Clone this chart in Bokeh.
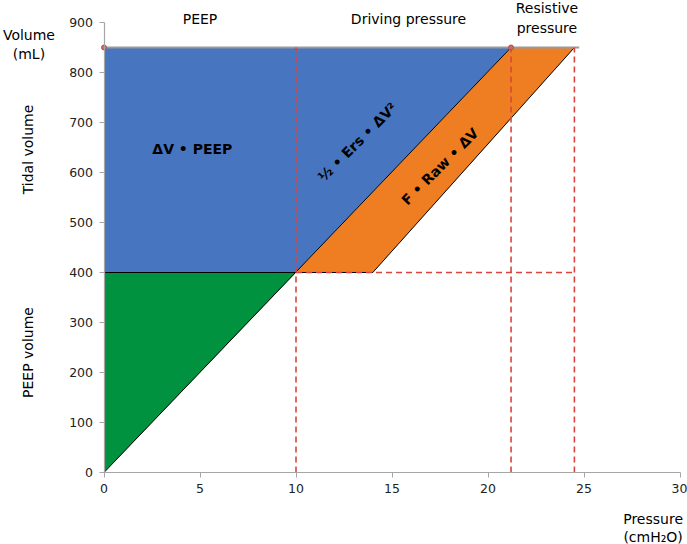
from bokeh.plotting import figure
from bokeh.models import Label, Range1d, FixedTicker
from bokeh.embed import file_html
from bokeh.resources import INLINE

# ---- data ----
peep_pressure = 10.0        # cmH2O
plateau_pressure = 21.2     # end of driving pressure
peak_pressure = 24.5        # end of resistive pressure
flow_corner_pressure = 14.0 # lower right corner of resistive area
peep_volume = 400           # mL
end_volume = 850            # mL

x_ticks = [0, 5, 10, 15, 20, 25, 30]
y_ticks = [0, 100, 200, 300, 400, 500, 600, 700, 800, 900]

green_x = [0, 0, peep_pressure]
green_y = [0, peep_volume, peep_volume]
blue_x = [0, 0, plateau_pressure, peep_pressure]
blue_y = [peep_volume, end_volume, end_volume, peep_volume]
orange_x = [peep_pressure, flow_corner_pressure, peak_pressure, plateau_pressure]
orange_y = [peep_volume, peep_volume, end_volume, end_volume]

BLUE = "#4775C0"
GREEN = "#00923F"
ORANGE = "#EF7D22"
RED = "#D9453C"
AXIS = "#A6A6A6"
FONT = "DejaVu Sans"

W, H = 687, 544
# plot area: x 0..30 spans px 103.5..679.5, y 0..900 spans px 472..22
XPX = 19.2
YPX = 0.5
x0_px, y0_px = 103.5, 472
x_range = Range1d(-x0_px / XPX, (W - x0_px) / XPX)
y_range = Range1d(-(H - y0_px) / YPX, y0_px / YPX)

p = figure(width=W, height=H, output_backend="svg", toolbar_location=None,
           x_range=x_range, y_range=y_range,
           min_border_left=0, min_border_right=0, min_border_top=0, min_border_bottom=0)
p.outline_line_color = None
p.xgrid.visible = False
p.ygrid.visible = False
p.background_fill_color = "white"

for ax in (p.xaxis[0], p.yaxis[0]):
    ax.fixed_location = 0
    ax.axis_line_color = AXIS
    ax.axis_line_width = 1.2
    ax.major_tick_line_color = AXIS
    ax.major_tick_in = 0
    ax.major_tick_out = 5
    ax.minor_tick_line_color = None
    ax.major_label_text_font = FONT
    ax.major_label_text_font_size = "12.5px"
    ax.major_label_text_color = "#222222"
p.xaxis.bounds = (0, 30)
p.yaxis.bounds = (0, 900)
p.xaxis.ticker = FixedTicker(ticks=x_ticks)
p.yaxis.ticker = FixedTicker(ticks=y_ticks)
p.xaxis.major_label_standoff = 6
p.yaxis.major_label_standoff = 6

# filled areas
p.patch(green_x, green_y, fill_color=GREEN, line_color=None)
p.patch(blue_x, blue_y, fill_color=BLUE, line_color=None)
p.patch(orange_x, orange_y, fill_color=ORANGE, line_color=None)

# outlines
p.line([0, plateau_pressure], [0, end_volume], line_color="black", line_width=1)
p.line([0, peep_pressure], [peep_volume, peep_volume], line_color="black", line_width=1)
p.line([flow_corner_pressure, peak_pressure], [peep_volume, end_volume], line_color="black", line_width=1)
p.line([peep_pressure, flow_corner_pressure], [peep_volume, peep_volume], line_color="black", line_width=1)
p.line([0, peak_pressure + 0.25], [end_volume, end_volume], line_color="#9A9A9A", line_width=1.8)

# dashed guides
for xv in (peep_pressure, plateau_pressure, peak_pressure):
    p.line([xv, xv], [0, end_volume], line_color=RED, line_width=1.6, line_dash="6 4")
p.line([peep_pressure, peak_pressure], [peep_volume, peep_volume],
       line_color=RED, line_width=1.6, line_dash="6 4")
p.scatter([0, plateau_pressure], [end_volume, end_volume], size=5,
          fill_color="#C86A6A", line_color="#B05050")

def lab(x, y, text, size="14px", bold=False, angle=0, color="black"):
    p.add_layout(Label(x=x, y=y, text=text, text_align="center", text_baseline="middle",
                       text_font=FONT, text_font_size=size,
                       text_font_style="bold" if bold else "normal",
                       angle=angle, angle_units="deg", text_color=color))

# region labels
lab(5.0, 908, "PEEP")
lab(15.86, 908, "Driving pressure")
lab(23.07, 929, "Resistive")
lab(23.07, 890, "pressure")

# axis labels
lab(-3.91, 876, "Volume")
lab(-3.91, 838, "(mL)")
lab(-3.98, 646, "Tidal volume", angle=90)
lab(-3.98, 240, "PEEP volume", angle=90)
lab(28.6, -92, "Pressure")
lab(28.6, -128, "(cmH\u2082O)")

# formulas
lab(4.6, 648, "\u0394V \u2022 PEEP", size="14px", bold=True)
lab(13.2, 661, "\u00bd \u2022 Ers \u2022 \u0394V\u00b2", size="14px", bold=True, angle=45)
lab(17.5, 612, "F \u2022 Raw \u2022 \u0394V", size="14px", bold=True, angle=45)

open("out.html", "w").write(file_html(p, INLINE))
